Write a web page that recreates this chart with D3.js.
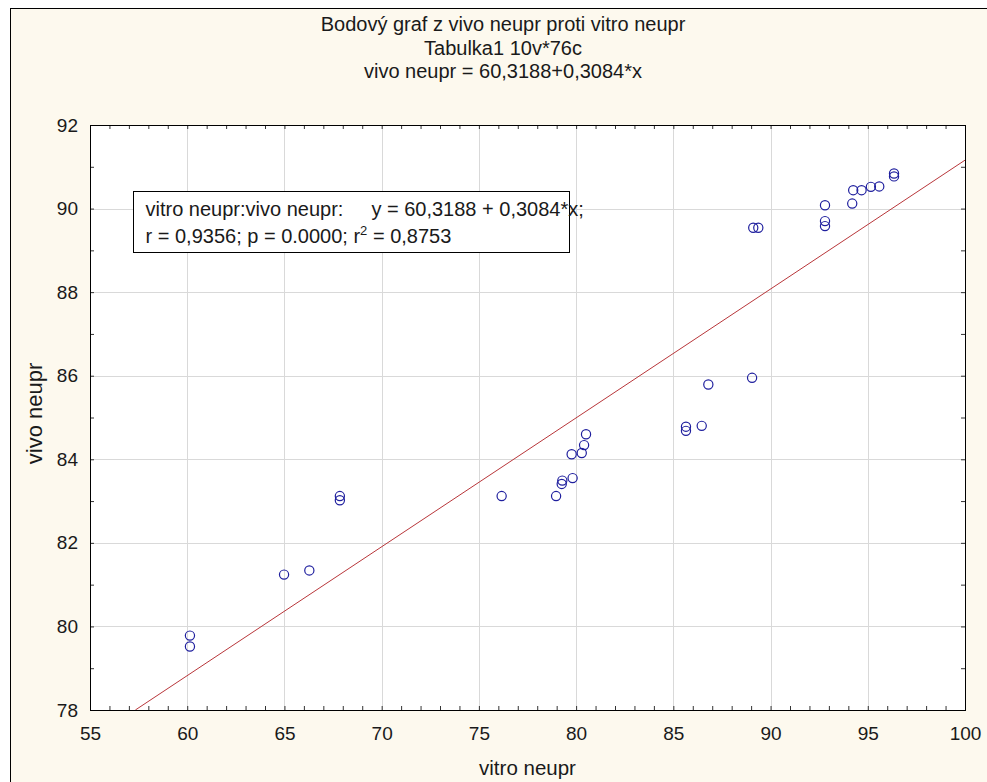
<!DOCTYPE html>
<html>
<head>
<meta charset="utf-8">
<script src="https://cdn.jsdelivr.net/npm/d3@7"></script>
<style>
  body { margin: 0; background: #fff; }
  text { font-family: "Liberation Sans", Arial, sans-serif; fill: #1a1a1a; }
</style>
</head>
<body>
<div id="chart-container"></div>
<script>
const vitroNeupr = [60.14, 60.14, 64.98, 66.28, 67.85, 67.85, 76.17,
  78.97, 79.26, 79.29, 79.82, 79.77, 80.29, 80.41, 80.51,
  85.65, 85.65, 86.46, 86.80, 89.05, 89.11, 89.37,
  92.80, 92.80, 92.80, 94.20, 94.25, 94.68, 95.16, 95.59, 96.35, 96.35];
const vivoNeupr = [79.78, 79.52, 81.24, 81.34, 83.12, 83.02, 83.12,
  83.12, 83.41, 83.49, 83.55, 84.12, 84.15, 84.34, 84.60,
  84.78, 84.68, 84.80, 85.79, 85.95, 89.54, 89.54,
  90.08, 89.70, 89.58, 90.12, 90.44, 90.44, 90.52, 90.53, 90.84, 90.77];

const xTicks = [55, 60, 65, 70, 75, 80, 85, 90, 95, 100];
const yTicks = [78, 80, 82, 84, 86, 88, 90, 92];
const fit = { a: 60.3188, b: 0.3084 };

const titleLines = [
  'Bodový graf z vivo neupr proti vitro neupr',
  'Tabulka1 10v*76c',
  'vivo neupr = 60,3188+0,3084*x'
];

const W = 987, H = 782;
const margin = { top: 125, right: 22, bottom: 72, left: 90 };
const width = W - margin.left - margin.right;
const height = H - margin.top - margin.bottom;

const svg = d3.select('#chart-container')
  .append('svg')
  .attr('width', W)
  .attr('height', H);

// outer frame (cream), runs off the right and bottom edges
svg.append('rect')
  .attr('x', 10.5).attr('y', 8.5)
  .attr('width', 1000).attr('height', 1000)
  .attr('fill', '#fdf9ee')
  .attr('stroke', '#000');

const x = d3.scaleLinear().domain([55, 100]).range([0, width]);
const y = d3.scaleLinear().domain([78, 92]).range([height, 0]);

const g = svg.append('g')
  .attr('transform', `translate(${margin.left},${margin.top})`);

g.append('rect')
  .attr('width', width).attr('height', height)
  .attr('fill', '#fff');

// grid
g.append('g')
  .selectAll('line')
  .data(xTicks.slice(1, -1))
  .enter().append('line')
  .attr('x1', d => Math.round(x(d)) + 0.5).attr('x2', d => Math.round(x(d)) + 0.5)
  .attr('y1', 0).attr('y2', height)
  .attr('stroke', '#d9d9d9');

g.append('g')
  .selectAll('line')
  .data(yTicks.slice(1, -1))
  .enter().append('line')
  .attr('y1', d => Math.round(y(d)) + 0.5).attr('y2', d => Math.round(y(d)) + 0.5)
  .attr('x1', 0).attr('x2', width)
  .attr('stroke', '#d9d9d9');

// inside ticks on all four sides
const xMinor = d3.range(55, 101, 1);
const yMinor = d3.range(78, 92.01, 1);
const tickStyle = sel => {
  sel.select('.domain').remove();
  sel.selectAll('.tick line').attr('stroke', '#333');
  sel.selectAll('.tick text').remove();
};

g.append('g').attr('transform', `translate(0,${height})`)
  .call(d3.axisBottom(x).tickValues(xMinor).tickSize(-4)).call(tickStyle);
g.append('g')
  .call(d3.axisTop(x).tickValues(xMinor).tickSize(-4)).call(tickStyle);
g.append('g')
  .call(d3.axisLeft(y).tickValues(yMinor).tickSize(-4)).call(tickStyle);
g.append('g').attr('transform', `translate(${width},0)`)
  .call(d3.axisRight(y).tickValues(yMinor).tickSize(-4)).call(tickStyle);

// tick labels
g.append('g')
  .call(d3.axisBottom(x).tickValues(xTicks).tickSize(0).tickPadding(0))
  .call(a => {
    a.select('.domain').remove();
    a.selectAll('.tick text')
      .attr('y', height + 30).attr('dy', null)
      .attr('font-size', 19).attr('fill', '#1a1a1a');
  });

g.append('g')
  .call(d3.axisLeft(y).tickValues(yTicks).tickSize(0).tickPadding(12))
  .call(a => {
    a.select('.domain').remove();
    a.selectAll('.tick text')
      .attr('font-size', 19).attr('fill', '#1a1a1a');
  });

// regression line
const x0 = (78 - fit.a) / fit.b;
g.append('path')
  .datum([x0, 100])
  .attr('d', d3.line().x(d => x(d)).y(d => y(fit.a + fit.b * d)))
  .attr('fill', 'none')
  .attr('stroke', '#b8363a')
  .attr('stroke-width', 1);

// points
g.append('g')
  .selectAll('circle')
  .data(vitroNeupr.map((v, i) => [v, vivoNeupr[i]]))
  .enter().append('circle')
  .attr('cx', d => x(d[0]))
  .attr('cy', d => y(d[1]))
  .attr('r', 4.6)
  .attr('fill', 'none')
  .attr('stroke', '#1f1f9e')
  .attr('stroke-width', 1.2);

// plot border
g.append('rect')
  .attr('x', 0.5).attr('y', 0.5)
  .attr('width', width).attr('height', height)
  .attr('fill', 'none').attr('stroke', '#000');

// legend box
const leg = svg.append('g').attr('transform', 'translate(133.5,191.5)');
const legRect = leg.append('rect')
  .attr('height', 61)
  .attr('fill', '#fff').attr('stroke', '#000');
const l1 = leg.append('text')
  .attr('x', 12).attr('y', 24).attr('font-size', 20);
l1.append('tspan').text('vitro neupr:vivo neupr:');
l1.append('tspan').attr('dx', 28).text('y = 60,3188 + 0,3084*x;');
const l2 = leg.append('text')
  .attr('x', 12).attr('y', 51).attr('font-size', 20);
l2.append('tspan').text('r = 0,9356; p = 0.0000; r');
l2.append('tspan').attr('font-size', 13).attr('dy', -8).text('2');
l2.append('tspan').attr('dy', 8).text(' = 0,8753');
const legW = Math.max(l1.node().getComputedTextLength(), l2.node().getComputedTextLength());
legRect.attr('width', Math.round(legW) + 26);

// titles
svg.append('g')
  .selectAll('text')
  .data(titleLines)
  .enter().append('text')
  .attr('x', 503)
  .attr('y', (d, i) => 31 + i * 23.5)
  .attr('text-anchor', 'middle')
  .attr('font-size', 20)
  .text(d => d);

// axis titles
svg.append('text')
  .attr('x', margin.left + width / 2)
  .attr('y', 775)
  .attr('text-anchor', 'middle')
  .attr('font-size', 20.5)
  .text('vitro neupr');

svg.append('text')
  .attr('transform', `translate(42,${margin.top + height / 2 - 4}) rotate(-90)`)
  .attr('text-anchor', 'middle')
  .attr('font-size', 22)
  .text('vivo neupr');
</script>
</body>
</html>
